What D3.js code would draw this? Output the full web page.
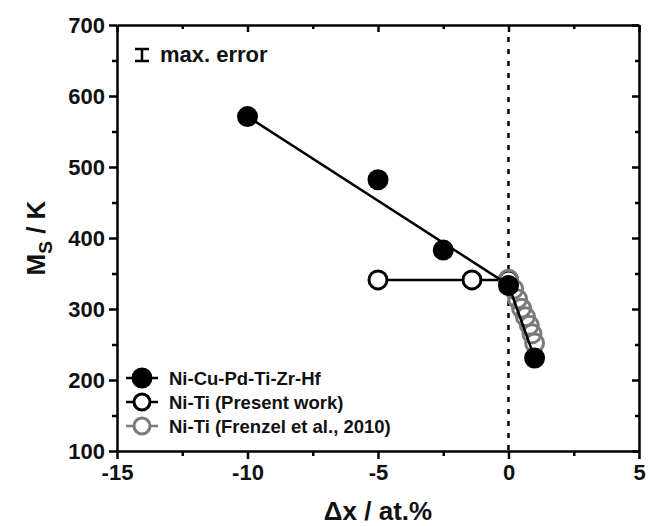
<!DOCTYPE html>
<html>
<head>
<meta charset="utf-8">
<title>Ms vs composition</title>
<script src="https://cdn.jsdelivr.net/npm/d3@7"></script>
<style>
body { margin: 0; background: #fff; }
svg text { font-family: "Liberation Sans", Arial, sans-serif; font-weight: bold; }
</style>
</head>
<body>
<svg width="650" height="526"></svg>
<script>
// data
var nicu = [[-10, 571], [-5, 482], [-2.5, 383], [0, 333], [1, 231]];
var nicuFit = [[-10, 571], [0, 334], [1, 231]];
var present = [[-5, 341], [-1.4, 341], [0, 341]];
var frenzel = [[0, 342], [0.2, 328], [0.35, 314], [0.5, 301], [0.65, 289], [0.8, 277], [0.9, 265], [1.0, 252]];
var xTicks = [-15, -10, -5, 0, 5];
var yTicks = [100, 200, 300, 400, 500, 600, 700];
var legendLabels = ["Ni-Cu-Pd-Ti-Zr-Hf", "Ni-Ti (Present work)", "Ni-Ti (Frenzel et al., 2010)"];

var svg = d3.select("svg"),
    margin = {top: 25, right: 11, bottom: 75, left: 117},
    width = 650 - margin.left - margin.right,
    height = 526 - margin.top - margin.bottom,
    g = svg.append("g").attr("transform", "translate(" + margin.left + "," + margin.top + ")");

var x = d3.scaleLinear().domain([-15, 5]).range([0, width]),
    y = d3.scaleLinear().domain([100, 700]).range([height, 0]);

var xMinor = d3.range(-12.5, 5, 5),
    yMinor = d3.range(150, 700, 100);

// plain hyphen for negatives, like the original
var fmt = function(d) { return String(d); };

function styleAxis(sel) {
  sel.selectAll("path").attr("stroke-width", 2.5);
  sel.selectAll("line").attr("stroke-width", 2.5);
  sel.selectAll("text").attr("font-size", 22).attr("fill", "#111");
}

// bottom / left axes, ticks outward
g.append("g").attr("transform", "translate(0," + height + ")")
  .call(d3.axisBottom(x).tickValues(xTicks).tickFormat(fmt).tickSize(8).tickSizeOuter(0).tickPadding(5))
  .call(styleAxis);
g.append("g").attr("transform", "translate(0," + height + ")")
  .call(d3.axisBottom(x).tickValues(xMinor).tickSize(5).tickFormat(""))
  .call(styleAxis).select("path").remove();

g.append("g")
  .call(d3.axisLeft(y).tickValues(yTicks).tickFormat(fmt).tickSize(8).tickSizeOuter(0).tickPadding(4))
  .call(styleAxis);
g.append("g")
  .call(d3.axisLeft(y).tickValues(yMinor).tickSize(5).tickFormat(""))
  .call(styleAxis).select("path").remove();

// top / right mirror, ticks inward
g.append("g")
  .call(d3.axisTop(x).tickValues(xTicks).tickSize(-7).tickSizeOuter(0).tickFormat(""))
  .call(styleAxis);
g.append("g")
  .call(d3.axisTop(x).tickValues(xMinor).tickSize(-4).tickFormat(""))
  .call(styleAxis).select("path").remove();
g.append("g").attr("transform", "translate(" + width + ",0)")
  .call(d3.axisRight(y).tickValues(yTicks).tickSize(-7).tickSizeOuter(0).tickFormat(""))
  .call(styleAxis);
g.append("g").attr("transform", "translate(" + width + ",0)")
  .call(d3.axisRight(y).tickValues(yMinor).tickSize(-4).tickFormat(""))
  .call(styleAxis).select("path").remove();

// dotted line at x = 0
g.append("line")
  .attr("x1", x(0)).attr("x2", x(0))
  .attr("y1", 12).attr("y2", height)
  .attr("stroke", "#000").attr("stroke-width", 2.5)
  .attr("stroke-dasharray", "5,7");

var line = d3.line().x(function(d) { return x(d[0]); }).y(function(d) { return y(d[1]); });

// Ni-Ti present work
g.append("path").datum(present)
  .attr("d", line).attr("fill", "none").attr("stroke", "#000").attr("stroke-width", 2.5);
g.selectAll(".present").data(present).enter().append("circle")
  .attr("class", "present")
  .attr("cx", function(d) { return x(d[0]); })
  .attr("cy", function(d) { return y(d[1]); })
  .attr("r", 9).attr("fill", "#fff").attr("stroke", "#000").attr("stroke-width", 3);

// Frenzel
g.selectAll(".frenzel").data(frenzel).enter().append("circle")
  .attr("class", "frenzel")
  .attr("cx", function(d) { return x(d[0]); })
  .attr("cy", function(d) { return y(d[1]); })
  .attr("r", 9).attr("fill", "none").attr("stroke", "#7a7a7a").attr("stroke-width", 3);

// Ni-Cu-Pd-Ti-Zr-Hf
g.append("path").datum(nicuFit)
  .attr("d", line).attr("fill", "none").attr("stroke", "#000").attr("stroke-width", 2.5);
g.selectAll(".nicu").data(nicu).enter().append("circle")
  .attr("class", "nicu")
  .attr("cx", function(d) { return x(d[0]); })
  .attr("cy", function(d) { return y(d[1]); })
  .attr("r", 10.5).attr("fill", "#000");

// max. error marker
var err = svg.append("g").attr("transform", "translate(142,55)");
err.append("line").attr("x1", -7).attr("x2", 7).attr("y1", -6).attr("y2", -6).attr("stroke", "#000").attr("stroke-width", 2.5);
err.append("line").attr("x1", -7).attr("x2", 7).attr("y1", 6).attr("y2", 6).attr("stroke", "#000").attr("stroke-width", 2.5);
err.append("line").attr("x1", 0).attr("x2", 0).attr("y1", -6).attr("y2", 6).attr("stroke", "#000").attr("stroke-width", 2.5);
svg.append("text").attr("x", 160).attr("y", 62).attr("font-size", 22).attr("fill", "#111").text("max. error");

// legend
var legend = svg.append("g").attr("transform", "translate(142,378)");
var legendStyles = [
  {fill: "#000", stroke: "#000", r: 9, line: "#000"},
  {fill: "#fff", stroke: "#000", r: 8, line: "#000"},
  {fill: "#fff", stroke: "#7a7a7a", r: 8, line: "#7a7a7a"}
];
legendLabels.forEach(function(label, i) {
  var row = legend.append("g").attr("transform", "translate(0," + (i * 24) + ")");
  var s = legendStyles[i];
  row.append("line").attr("x1", -16).attr("x2", 16).attr("stroke", s.line).attr("stroke-width", 2.5);
  row.append("circle").attr("r", s.r).attr("fill", s.fill).attr("stroke", s.stroke).attr("stroke-width", 3);
  row.append("text").attr("x", 27).attr("y", 6.5).attr("font-size", 18.5).attr("fill", "#111").text(label);
});

// axis titles
svg.append("text")
  .attr("x", margin.left + width / 2).attr("y", 520)
  .attr("text-anchor", "middle").attr("font-size", 26).attr("fill", "#111")
  .text("\u0394x / at.%");

var yt = svg.append("text")
  .attr("transform", "translate(45," + (margin.top + height / 2) + ") rotate(-90)")
  .attr("text-anchor", "middle").attr("font-size", 26).attr("fill", "#111");
yt.append("tspan").text("M");
yt.append("tspan").attr("font-size", 19).attr("dy", 7).text("S");
yt.append("tspan").attr("dy", -7).text(" / K");
</script>
</body>
</html>
